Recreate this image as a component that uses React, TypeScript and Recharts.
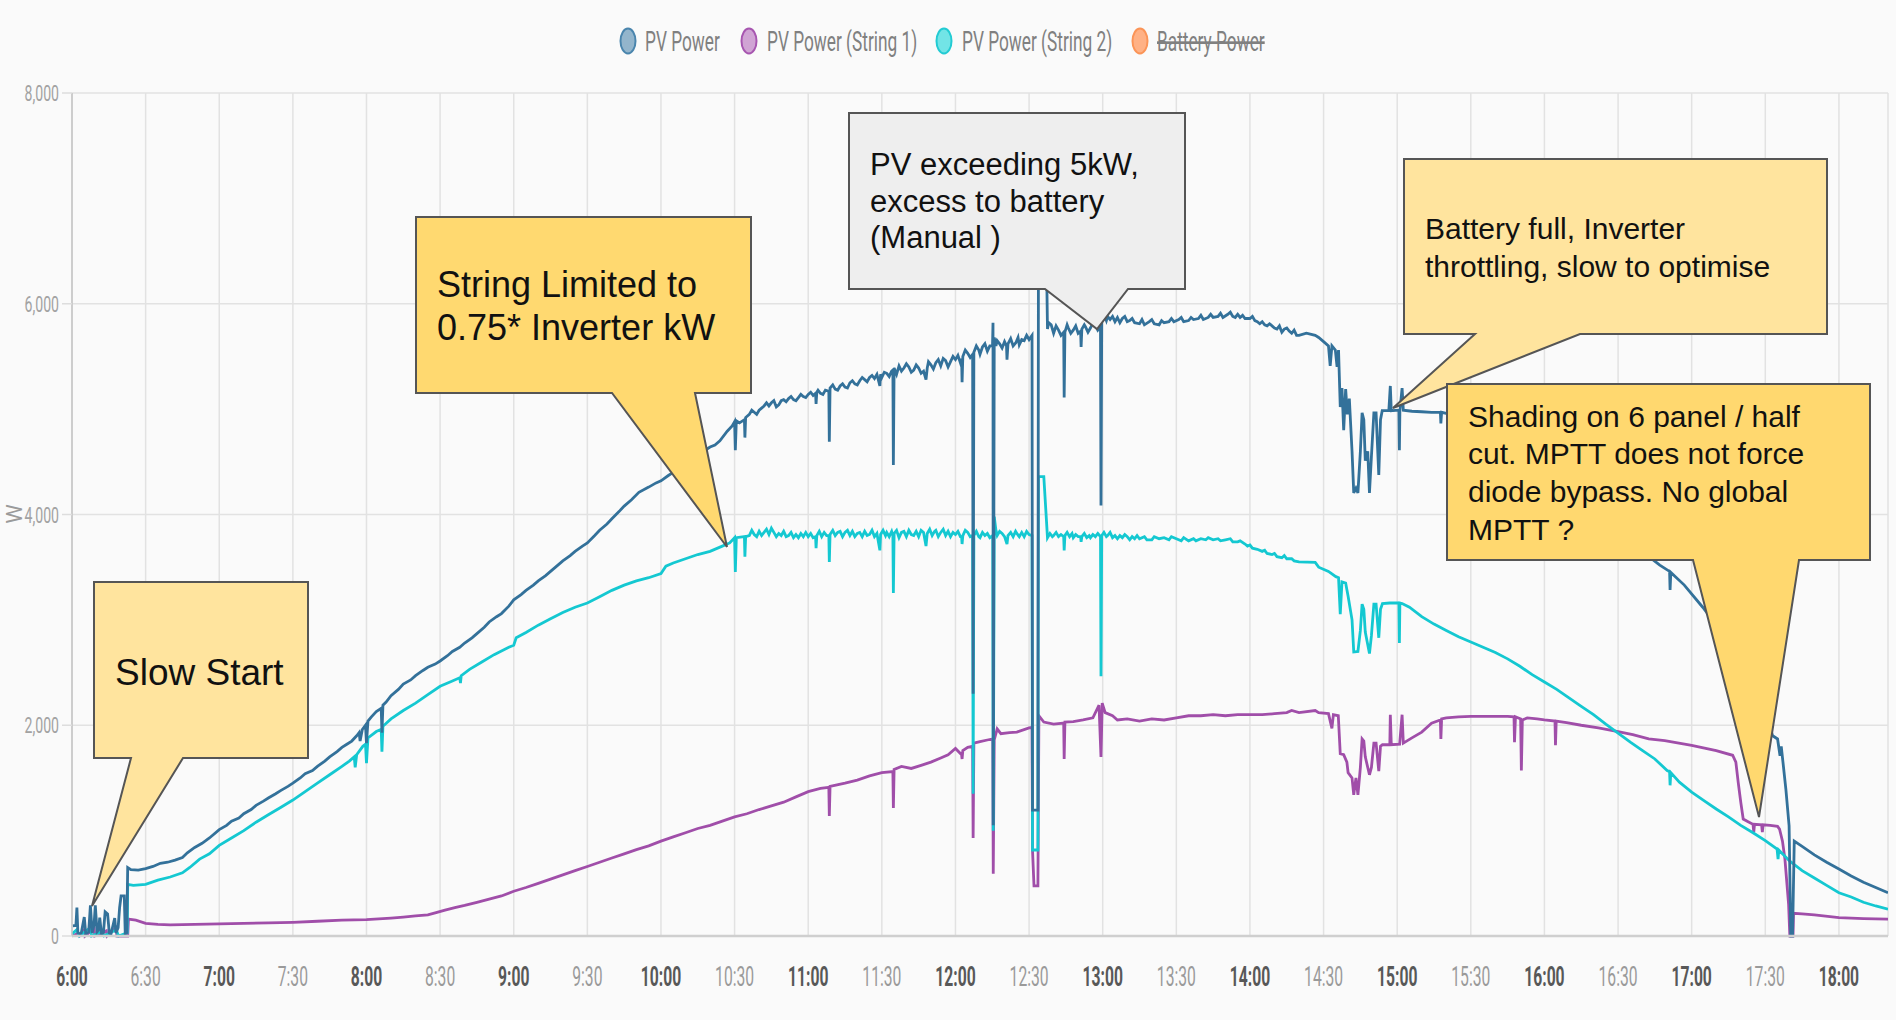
import React from "react";
import { LineChart, Line, XAxis, YAxis, CartesianGrid } from "recharts";

// minutes since midnight, watts
const pvPower: [number, number][] = [
  [360.3, 95], [361.6, 100], [362.0, 270], [362.4, 30], [363.3, 20], [363.8, 30], [365.0, 180], [365.6, 20],
  [366.8, 40], [367.5, 290], [368.2, 30], [369.0, 110], [369.5, 290], [370.2, 40], [370.9, 60], [371.3, 175],
  [372.0, 20], [372.8, 30], [373.5, 230], [374.5, 210], [375.2, 30], [375.9, 20], [376.6, 90], [377.4, 170],
  [377.9, 30], [378.8, 80], [379.4, 270], [380.0, 380], [381.3, 380], [381.7, 20], [382.3, 30], [382.7, 650],
  [384, 630], [387, 625], [390, 640], [393, 660], [396, 690], [399, 700], [402, 720], [405, 745], [407, 790],
  [410, 840], [413, 880], [416, 930], [420, 1010], [423, 1050], [425, 1090], [428, 1120], [430, 1160],
  [433, 1200], [435, 1240], [438, 1280], [440, 1310], [443, 1350], [445, 1380], [448, 1420], [450, 1450],
  [453, 1500], [455, 1540], [458, 1570], [460, 1610], [463, 1660], [465, 1700], [468, 1750], [470, 1790],
  [472, 1820], [474, 1850], [476, 1900], [477, 1930], [477.4, 1850], [478.3, 1960], [479.6, 2000], [480, 1830],
  [480.6, 2040], [482, 2080], [484, 2130], [486, 2160], [486.3, 1930], [486.7, 2190], [488, 2220], [490, 2280],
  [493, 2340], [495, 2390], [498, 2430], [500, 2470], [503, 2520], [505, 2550], [508, 2580], [510, 2610],
  [513, 2660], [515, 2700], [518, 2740], [520, 2780], [523, 2830], [525, 2870], [528, 2930], [530, 2980],
  [533, 3030], [535, 3060], [538, 3130], [540, 3190], [543, 3240], [545, 3280], [548, 3330], [550, 3370],
  [553, 3420], [555, 3460], [558, 3520], [560, 3560], [563, 3610], [565, 3650], [568, 3700], [570, 3730],
  [573, 3800], [575, 3850], [578, 3910], [580, 3960], [583, 4030], [585, 4080], [588, 4140], [591, 4210],
  [595, 4260], [598, 4300], [600, 4320], [603, 4370], [605, 4400], [608, 4450], [610, 4480], [613, 4530],
  [615, 4560], [618, 4610], [620, 4640], [622, 4660], [624, 4700], [627, 4790], [629, 4840], [630, 4880],
  [630.3, 4610], [630.7, 4890], [632, 4870], [634, 4900], [634.2, 4730], [634.5, 4920], [636, 4950],
  [637, 4990], [638, 4970], [639, 4950], [640, 4990], [641, 5010], [642, 5030], [643, 5060], [644, 5030],
  [645, 5060], [646, 5080], [647, 5020], [648, 5040], [649, 5080], [650, 5090], [651, 5070], [652, 5100],
  [653, 5120], [654, 5090], [655, 5080], [656, 5110], [657, 5140], [658, 5120], [659, 5110], [660, 5140],
  [661, 5160], [662, 5130], [663, 5150], [663.2, 5050], [663.5, 5160], [664, 5180], [665, 5150], [666, 5140],
  [667, 5180], [668.4, 5170], [668.6, 4690], [668.9, 5200], [670, 5230], [671, 5190], [672, 5180],
  [673, 5220], [674, 5240], [675, 5210], [676, 5200], [677, 5250], [678, 5270], [679, 5240], [680, 5230],
  [681, 5270], [682, 5300], [683, 5280], [684, 5260], [685, 5300], [686, 5320], [687, 5290], [688, 5330],
  [689.2, 5220], [689.5, 5330], [690, 5300], [691, 5350], [692, 5340], [693, 5310], [694, 5360],
  [694.5, 5370], [694.7, 4470], [695, 5390], [696, 5330], [697, 5410], [698, 5360], [699, 5390], [700, 5430],
  [701, 5400], [702, 5350], [703, 5370], [704, 5420], [705, 5390], [706, 5340], [707, 5360], [708, 5280],
  [708.5, 5390], [709, 5450], [710, 5420], [711, 5380], [712, 5440], [713, 5470], [714, 5410], [715, 5480],
  [716, 5460], [717, 5400], [718, 5450], [719, 5500], [720, 5470], [721, 5510], [722, 5440], [722.5, 5480],
  [722.7, 5255], [723, 5500], [724, 5560], [725, 5530], [726, 5490], [727, 5520], [727.2, 2300], [727.5, 5540],
  [728.5, 5600], [729.5, 5560], [730, 5520], [731, 5590], [732, 5620], [733, 5550], [734, 5600], [735.1, 5600],
  [735.3, 5820], [735.4, 1050], [735.8, 5680], [736.5, 5600], [737, 5650], [738, 5620], [739, 5580],
  [740, 5640], [740.8, 5600], [741, 5470], [741.4, 5620], [742.5, 5670], [743.5, 5600], [744.6, 5630],
  [745.5, 5680], [746, 5610], [747, 5660], [748, 5650], [749, 5700], [750, 5660], [751.2, 5700],
  [751.4, 1195], [753.6, 1195], [753.8, 6250], [757.2, 6250], [757.5, 5760], [758, 5820], [759, 5800],
  [760, 5720], [761, 5790], [762, 5750], [763, 5700], [764.1, 5730], [764.3, 5110], [764.6, 5730],
  [765.5, 5800], [766, 5770], [767, 5720], [768, 5750], [769, 5790], [770, 5720], [771, 5740], [771.2, 5590],
  [771.5, 5760], [772.5, 5800], [773, 5780], [774, 5730], [775, 5770], [776, 5820], [777, 5800], [778, 5750],
  [779.1, 5780], [779.3, 4085], [779.6, 5840], [780.5, 5900], [781.5, 5840], [782, 5880], [783, 5850],
  [784, 5880], [785, 5830], [786, 5870], [787, 5820], [788, 5860], [789, 5880], [790, 5830], [791, 5840],
  [792, 5860], [793, 5820], [795, 5810], [796, 5850], [797, 5800], [799, 5830], [800, 5850], [801, 5810],
  [803, 5800], [804, 5840], [805, 5820], [807, 5830], [808, 5860], [809, 5830], [811, 5850], [812, 5870],
  [813, 5830], [815, 5840], [816, 5870], [817, 5850], [819, 5860], [820, 5890], [821, 5850], [823, 5870],
  [824, 5900], [825, 5870], [827, 5880], [828, 5910], [829, 5870], [831, 5900], [832, 5920], [833, 5880],
  [834, 5870], [835, 5900], [836, 5870], [837, 5890], [838, 5860], [840, 5860], [841, 5880], [842, 5840],
  [843, 5830], [844, 5810], [845, 5830], [846, 5800], [847, 5790], [848, 5810], [849, 5790], [850, 5770],
  [851, 5760], [852, 5790], [853, 5730], [854, 5760], [855, 5770], [856, 5740], [857, 5720], [858, 5750],
  [859, 5700], [860, 5700], [863, 5720], [866.6, 5700], [868, 5680], [870, 5640], [872, 5600],
  [872.7, 5410], [873.4, 5600], [874.8, 5560], [875.5, 5400], [876.1, 5560], [876.8, 5020], [877.5, 5200],
  [878.2, 4800], [879, 5190], [879.7, 4950], [880.5, 5100], [881.6, 4600], [882.3, 4205], [883.2, 4250],
  [884, 4205], [885, 4600], [885.7, 4965], [886.4, 4900], [887, 4510], [888, 4600], [888.7, 4205],
  [889.5, 4550], [890.5, 4965], [891.4, 4965], [892.5, 4375], [893.2, 4900], [893.9, 4985], [896.6, 4985],
  [897.2, 5220], [897.6, 4985], [900.7, 4990], [900.9, 4610], [901.1, 4985], [902, 5200], [902.5, 4990],
  [906, 4980], [910, 4975], [914, 4970], [917.6, 4970], [917.8, 4865], [918.1, 4970], [920, 4960],
  [925, 4920], [930, 4870], [935, 4820], [940, 4775], [945, 4710], [950, 4640], [955, 4560], [960, 4470],
  [965, 4380], [970, 4290], [975, 4200], [980, 4100], [985, 4000], [990, 3890], [995, 3780], [1000, 3680],
  [1003.4, 3585], [1007, 3520], [1011, 3460], [1011.2, 3285], [1011.5, 3450], [1017, 3330], [1024.5, 3120],
  [1030, 2950], [1040, 2650], [1048, 2250], [1053, 1900], [1055, 1870], [1056, 1710], [1056.5, 1800],
  [1057.2, 1650], [1058.4, 1390], [1059.7, 1045], [1060.4, 0], [1061.1, 0], [1061.8, 900], [1065, 850],
  [1070, 770], [1075, 700], [1080, 635], [1085, 570], [1090, 510], [1095, 460], [1100, 410],
];

const string1Power: [number, number][] = [
  [360, 0], [362, 20], [363, 0], [365, 60], [365.3, 0], [369, 70], [369.3, 0], [374, 50], [374.3, 0],
  [378, 80], [378.3, 0], [382.7, 0], [383, 160], [386, 150], [390, 120], [395, 110], [400, 105], [410, 110],
  [420, 115], [430, 120], [440, 125], [450, 130], [460, 140], [470, 150], [480, 155], [490, 170], [495, 180],
  [500, 190], [505, 200], [508, 220], [512, 245], [516, 270], [520, 290], [525, 320], [530, 350], [535, 380],
  [540, 425], [545, 460], [550, 500], [555, 540], [560, 580], [565, 620], [570, 660], [575, 700], [580, 740],
  [585, 780], [590, 820], [595, 855], [600, 900], [605, 940], [610, 980], [615, 1020], [620, 1050],
  [625, 1090], [630, 1130], [635, 1160], [640, 1200], [645, 1235], [650, 1270], [655, 1320], [660, 1370],
  [665, 1400], [668.4, 1410], [668.6, 1140], [668.9, 1420], [675, 1450], [680, 1480], [685, 1520],
  [690, 1550], [694.5, 1560], [694.7, 1215], [695, 1580], [698, 1610], [702, 1590], [706, 1620], [710, 1650],
  [714, 1690], [717, 1720], [720, 1780], [722.5, 1720], [722.7, 1680], [723, 1760], [725, 1790], [727, 1800],
  [727.2, 930], [727.5, 1830], [730, 1845], [733, 1860], [735.2, 1870], [735.4, 590], [735.8, 1860],
  [737, 1965], [738.5, 1920], [742, 1930], [745, 1935], [750, 1975], [751.2, 1980], [751.4, 815], [752, 475],
  [753.6, 475], [754, 2090], [756, 2030], [760, 2010], [764.1, 2020], [764.3, 1680], [764.6, 2030],
  [768, 2035], [772, 2050], [776, 2070], [778.5, 2190], [779.3, 1700], [779.8, 2210], [781, 2120],
  [784, 2090], [786, 2050], [790, 2060], [795, 2040], [800, 2060], [805, 2050], [810, 2070], [815, 2090],
  [820, 2090], [825, 2100], [830, 2090], [835, 2100], [840, 2100], [845, 2100], [850, 2110], [855, 2120],
  [857, 2140], [860, 2120], [866.6, 2140], [868, 2120], [872, 2110], [873.4, 1970], [874, 2100], [876, 2090],
  [876.8, 1730], [878.2, 1720], [879.5, 1650], [880, 1550], [881.6, 1500], [882.3, 1340], [883.2, 1500],
  [884, 1340], [885, 1600], [885.7, 1870], [886.4, 1850], [887, 1700], [888.7, 1530], [889.5, 1600],
  [890.5, 1830], [891.4, 1830], [892.5, 1565], [893.2, 1800], [894, 1815], [897, 1815], [897.2, 2100],
  [897.6, 1815], [901, 1820], [902, 2100], [902.5, 1830], [906, 1880], [910, 1935], [914, 2020],
  [917.6, 2050], [917.8, 1870], [918.1, 2060], [920, 2070], [925, 2080], [930, 2085], [935, 2085],
  [940, 2085], [945, 2085], [947.6, 2080], [947.8, 1840], [948.2, 2080], [950.3, 2060], [950.6, 1570],
  [951, 2050], [953, 2070], [957, 2060], [960, 2050], [964.3, 2040], [964.5, 1810], [964.8, 2040],
  [969, 2025], [975, 2000], [982, 1975], [990, 1940], [996, 1910], [1002.5, 1870], [1009, 1855],
  [1020, 1810], [1030, 1760], [1036.7, 1715], [1038, 1650], [1039, 1450], [1040, 1270], [1041, 1110],
  [1043, 1085], [1045, 1060], [1045.3, 985], [1045.6, 1060], [1048.5, 1055], [1048.8, 985], [1049.1, 1055],
  [1052, 1050], [1055, 1040], [1055.8, 1015], [1057, 900], [1058, 730], [1059.5, 300], [1060, 0],
  [1061.3, 0], [1061.5, 215], [1065, 210], [1070, 200], [1080, 175], [1090, 165], [1100, 160],
];

const string2Power: [number, number][] = [
  [360, 20], [362, 60], [363, 0], [367.5, 80], [368, 0], [372, 40], [373, 0], [378, 60], [379, 0],
  [382.5, 30], [382.7, 490], [385, 480], [390, 490], [395, 530], [400, 560], [405, 600], [408, 650],
  [412, 730], [416, 780], [420, 860], [425, 930], [430, 1000], [435, 1080], [440, 1150], [445, 1220],
  [450, 1290], [455, 1370], [460, 1450], [465, 1530], [470, 1610], [473, 1660], [475, 1700], [475.4, 1600],
  [476, 1720], [478.5, 1800], [479.6, 1820], [480, 1640], [480.6, 1880], [484, 1940], [486, 1960],
  [486.3, 1750], [486.7, 1990], [490, 2060], [495, 2140], [500, 2210], [505, 2290], [510, 2370], [515, 2420],
  [518, 2450], [518.3, 2400], [518.6, 2470], [522, 2530], [527, 2600], [532, 2670], [538, 2740], [540, 2760],
  [541, 2830], [545, 2880], [550, 2950], [555, 3010], [560, 3070], [565, 3120], [570, 3160], [575, 3220],
  [580, 3280], [585, 3330], [590, 3370], [595, 3400], [600, 3440], [602, 3510], [605, 3540], [610, 3580],
  [615, 3620], [620, 3650], [625, 3700], [628, 3730], [630, 3780], [630.3, 3455], [630.7, 3780], [634, 3790],
  [634.2, 3600], [634.5, 3790], [636, 3800], [637, 3850], [638, 3810], [639, 3790], [640, 3840], [641, 3800],
  [642, 3830], [643, 3860], [644, 3810], [645, 3870], [646, 3830], [647, 3790], [648, 3820], [649, 3800],
  [650, 3840], [651, 3790], [652, 3800], [653, 3830], [654, 3780], [655, 3810], [656, 3780], [657, 3820],
  [658, 3790], [659, 3830], [660, 3790], [661, 3820], [662, 3780], [663, 3790], [663.2, 3680], [663.5, 3800],
  [664.5, 3840], [665.5, 3790], [666.5, 3830], [667.5, 3800], [668.4, 3800], [668.6, 3550], [668.9, 3810],
  [670, 3850], [671, 3800], [672, 3830], [673, 3840], [674, 3790], [675, 3830], [676, 3850], [677, 3800],
  [678, 3840], [679, 3790], [680, 3820], [681, 3830], [682, 3790], [683, 3840], [684, 3800], [685, 3810],
  [686, 3850], [687, 3790], [688, 3820], [689.2, 3660], [689.5, 3810], [690.5, 3850], [691.5, 3800],
  [692, 3830], [693, 3790], [694, 3840], [694.5, 3800], [694.7, 3255], [695, 3820], [696, 3850], [697, 3780],
  [698, 3830], [699, 3840], [700, 3790], [701, 3850], [702, 3810], [703, 3800], [704, 3840], [705, 3790],
  [706, 3850], [707, 3830], [708, 3700], [708.5, 3820], [709.5, 3860], [710.5, 3800], [711.5, 3840],
  [712, 3850], [713, 3790], [714, 3830], [715, 3860], [716, 3800], [717, 3840], [718, 3790], [719, 3830],
  [720, 3810], [721, 3840], [722, 3790], [722.5, 3790], [722.7, 3720], [723, 3800], [724, 3850], [725, 3830],
  [726, 3790], [727, 3800], [727.2, 1350], [727.5, 3800], [728.5, 3840], [729.5, 3790], [730, 3780],
  [731, 3830], [732, 3800], [733, 3820], [734, 3780], [735.2, 3800], [735.4, 1000], [735.8, 3980],
  [736.5, 3850], [737, 3800], [738, 3840], [739, 3820], [740, 3790], [741, 3720], [741.4, 3800], [742.5, 3830],
  [743.5, 3790], [744.5, 3840], [745, 3820], [746, 3790], [747, 3830], [748, 3790], [749, 3840], [750, 3810],
  [751.2, 3800], [751.4, 816], [753.6, 816], [753.8, 4360], [756, 4360], [757.5, 3780], [758.5, 3820],
  [759.5, 3790], [760, 3800], [761, 3830], [762, 3790], [763, 3810], [764.1, 3790], [764.3, 3660],
  [764.6, 3800], [765.5, 3830], [766.5, 3790], [767.5, 3820], [768, 3780], [769, 3810], [770, 3790],
  [771, 3790], [771.2, 3740], [771.5, 3790], [772.5, 3820], [773.5, 3780], [774.5, 3800], [775, 3780],
  [776, 3810], [777, 3790], [778, 3820], [779.1, 3790], [779.3, 2465], [779.6, 3800], [780.5, 3830],
  [781.5, 3790], [782, 3800], [783, 3830], [784, 3780], [785, 3800], [786, 3770], [787, 3800], [788, 3780],
  [789, 3810], [790, 3790], [791, 3760], [792, 3790], [793, 3770], [794, 3800], [795, 3770], [797, 3790],
  [798, 3760], [800, 3760], [801, 3790], [803, 3770], [805, 3780], [807, 3760], [808, 3790], [810, 3770],
  [812, 3750], [813, 3780], [815, 3750], [817, 3770], [818, 3750], [820, 3770], [822, 3760], [823, 3780],
  [825, 3760], [827, 3770], [828, 3750], [830, 3760], [832, 3770], [833, 3740], [835, 3740], [836, 3750],
  [838, 3720], [839, 3700], [840, 3710], [841, 3680], [843, 3670], [845, 3650], [846, 3660], [847, 3630],
  [849, 3620], [850, 3630], [851, 3600], [853, 3590], [854, 3610], [855, 3580], [857, 3580], [858, 3560],
  [860, 3550], [866.6, 3545], [868, 3500], [872, 3460], [875, 3410], [876.1, 3400], [876.8, 3055],
  [877.5, 3360], [879, 3350], [880, 3225], [881.6, 3000], [882.3, 2695], [884, 2700], [885, 2900],
  [885.7, 3150], [886.4, 3100], [887, 2885], [888.7, 2680], [889.5, 2850], [890.5, 3150], [891.4, 3150],
  [892.5, 2830], [893.2, 3100], [894, 3155], [897, 3160], [900.7, 3160], [900.9, 2780], [901.1, 3160],
  [902, 3155], [905, 3120], [910, 3030], [915, 2960], [920, 2900], [925, 2840], [930, 2790], [935, 2740],
  [940, 2690], [945, 2630], [950, 2560], [955, 2480], [960, 2410], [965, 2340], [970, 2260], [975, 2180],
  [980, 2100], [985, 2010], [990, 1925], [995, 1840], [1000, 1760], [1005, 1680], [1010, 1570], [1011, 1560],
  [1011.2, 1430], [1011.5, 1550], [1015, 1460], [1020, 1365], [1025, 1285], [1030, 1205], [1035, 1130],
  [1040, 1050], [1045, 980], [1050, 905], [1054.8, 825], [1055.2, 730], [1055.5, 815], [1060, 710],
  [1065, 620], [1070, 550], [1075, 480], [1080, 410], [1085, 370], [1090, 320], [1095, 285], [1100, 255],
];

const timeTicks = [360, 390, 420, 450, 480, 510, 540, 570, 600, 630, 660, 690, 720, 750, 780, 810, 840, 870, 900, 930, 960, 990, 1020, 1050, 1080];
const wattTicks = [0, 2000, 4000, 6000, 8000];

const legendNames = ["PV Power", "PV Power (String 1)", "PV Power (String 2)", "Battery Power"];

const BLUE = "#33719a";
const PURPLE = "#a04ea9";
const CYAN = "#14c8d1";

const toRows = (pts: [number, number][]) => pts.map(([t, w]) => ({ t, w }));

const fmtTime = (m: number) => `${Math.floor(m / 60)}:${String(m % 60).padStart(2, "0")}`;

const TimeTick = (props: any) => {
  const { x, y, payload } = props;
  const full = payload.value % 60 === 0;
  return (
    <text
      transform={`translate(${x},${y + 50}) scale(0.58,1)`}
      textAnchor="middle"
      fontFamily="Roboto"
      fontSize={27}
      fontWeight={full ? 700 : 400}
      fill={full ? "#585858" : "#9a9a9a"}
    >
      {fmtTime(payload.value)}
    </text>
  );
};

const WattTick = (props: any) => {
  const { x, y, payload } = props;
  return (
    <text
      transform={`translate(${x},${y + 8}) scale(0.64,1)`}
      textAnchor="end"
      fontFamily="Roboto"
      fontSize={22}
      fill="#a2a2a2"
    >
      {payload.value.toLocaleString("en-US")}
    </text>
  );
};

type Callout = {
  box: [number, number, number, number];
  base: [number, number];
  tip: [number, number];
  fill: string;
  size: number;
  tx: number;
  lines: [string, number][];
};

const callouts: Callout[] = [
  { box: [94, 582, 308, 758], base: [131, 183], tip: [92, 906], fill: "#ffe49e", size: 37, tx: 115, lines: [["Slow Start", 685]] },
  { box: [416, 217, 751, 393], base: [612, 695], tip: [727, 547], fill: "#ffd970", size: 36, tx: 437, lines: [["String Limited to", 297], ["0.75* Inverter kW", 340]] },
  { box: [849, 113, 1185, 289], base: [1045, 1128], tip: [1097, 329], fill: "#eeeeee", size: 31, tx: 870, lines: [["PV exceeding 5kW,", 175], ["excess to battery", 212], ["(Manual )", 248]] },
  { box: [1404, 159, 1827, 334], base: [1475, 1580], tip: [1393, 408], fill: "#ffe49e", size: 30, tx: 1425, lines: [["Battery full, Inverter", 239], ["throttling, slow to optimise", 277]] },
  { box: [1447, 384, 1870, 560], base: [1693, 1799], tip: [1759, 817], fill: "#ffd86f", size: 30, tx: 1468, lines: [["Shading on 6 panel / half", 427], ["cut. MPTT does not force", 464], ["diode bypass. No global", 502], ["MPTT ?", 540]] },
];

const legendItems = [
  { name: legendNames[0], cx: 628, tx: 645, fill: "#93b5cc", stroke: "#4a85ad", off: false },
  { name: legendNames[1], cx: 749, tx: 767, fill: "#d0a4d4", stroke: "#a756b0", off: false },
  { name: legendNames[2], cx: 944, tx: 962, fill: "#72e4e6", stroke: "#22cbd3", off: false },
  { name: legendNames[3], cx: 1140, tx: 1157, fill: "#ffb185", stroke: "#fb9457", off: true },
];

function Overlay() {
  return (
    <svg width={1896} height={1020} style={{ position: "absolute", left: 0, top: 0, pointerEvents: "none" }}>
      {legendItems.map((it) => (
        <g key={it.name}>
          <ellipse cx={it.cx} cy={41} rx={7.5} ry={12.5} fill={it.fill} stroke={it.stroke} strokeWidth={2} />
          <text
            transform={`translate(${it.tx},51) scale(0.64,1)`}
            fontFamily="Roboto"
            fontSize={27}
            fill="#808080"
            style={it.off ? { textDecoration: "line-through" } : undefined}
          >
            {it.name}
          </text>
        </g>
      ))}
      <text transform="translate(22,514) rotate(-90)" textAnchor="middle" fontFamily="Roboto" fontSize={22} fill="#9a9a9a">
        W
      </text>
      {callouts.map((c, i) => {
        const [x1, y1, x2, y2] = c.box;
        const d = `M${x1},${y1} H${x2} V${y2} H${c.base[1]} L${c.tip[0]},${c.tip[1]} L${c.base[0]},${y2} H${x1} Z`;
        return (
          <g key={i}>
            <path d={d} fill={c.fill} stroke="#555" strokeWidth={2} strokeLinejoin="miter" />
            {c.lines.map(([s, by]) => (
              <text key={s} x={c.tx} y={by} fontFamily="Liberation Sans, Arial, sans-serif" fontSize={c.size} fill="#111">
                {s}
              </text>
            ))}
          </g>
        );
      })}
    </svg>
  );
}

export default function App() {
  return (
    <div style={{ position: "absolute", left: 0, top: 0, width: 1896, height: 1020, background: "#fafafa" }}>
      <LineChart width={1896} height={1020} margin={{ top: 93, right: 8, bottom: 0, left: 0 }}>
        <CartesianGrid stroke="#e2e2e2" strokeWidth={1.5} />
        <XAxis
          type="number"
          dataKey="t"
          domain={[360, 1100]}
          allowDataOverflow
          ticks={timeTicks}
          interval={0}
          height={84}
          tickSize={0}
          tickMargin={0}
          tickLine={false}
          axisLine={{ stroke: "#cfcfcf", strokeWidth: 2.5 }}
          tick={<TimeTick />}
        />
        <YAxis
          type="number"
          domain={[0, 8000]}
          ticks={wattTicks}
          interval={0}
          width={72}
          tickSize={10}
          tickMargin={3}
          tickLine={{ stroke: "#dddddd", strokeWidth: 1.5 }}
          axisLine={{ stroke: "#c4c4c4", strokeWidth: 1.5 }}
          tick={<WattTick />}
        />
        <Line data={toRows(string1Power)} dataKey="w" type="linear" stroke={PURPLE} strokeWidth={2.8} dot={false} isAnimationActive={false} />
        <Line data={toRows(string2Power)} dataKey="w" type="linear" stroke={CYAN} strokeWidth={2.8} dot={false} isAnimationActive={false} />
        <Line data={toRows(pvPower)} dataKey="w" type="linear" stroke={BLUE} strokeWidth={2.8} dot={false} isAnimationActive={false} />
      </LineChart>
      <Overlay />
    </div>
  );
}
